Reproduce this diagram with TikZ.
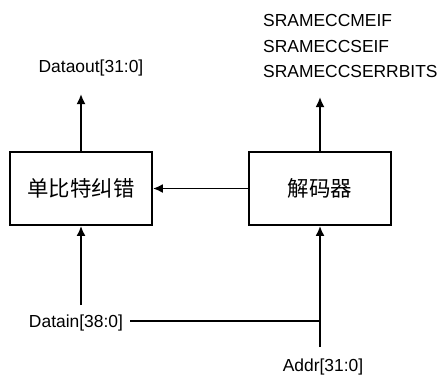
\documentclass[tikz,border=0pt]{standalone}
\usepackage{fontspec}
\setmainfont{Liberation Sans}
\newfontfamily\cjk{Noto Sans CJK SC}
\usetikzlibrary{arrows.meta}
\begin{document}
\begin{tikzpicture}[x=1bp,y=-1bp,
  blk/.style={draw,line width=1.8bp,minimum width=142bp,minimum height=73bp,inner sep=0pt,font=\cjk\fontsize{21.5}{24}\selectfont},
  lbl/.style={inner sep=0pt,font=\fontsize{17.5}{20}\selectfont},
  wire/.style={line width=1.8bp},
  arr/.style={wire,-{Latex[length=10bp,width=9bp]}}]
\useasboundingbox (0,0) rectangle (440,376);
\node[blk] (L) at (81,188.5) {单比特纠错};
\node[blk] (R) at (320,188.5) {解码器};
\node[lbl] (dout) at (91,68) {Dataout[31:0]};
\node[lbl,anchor=west,align=left,font=\fontsize{17.5}{26}\selectfont] (flags) at (263,46) {SRAMECCMEIF\\SRAMECCSEIF\\SRAMECCSERRBITS};
\node[lbl] (din) at (76,323) {Datain[38:0]};
\node[lbl] (addr) at (323,367) {Addr[31:0]};
\coordinate (doutEnd) at (81,94);
\coordinate (flagEnd) at (320,97);
\coordinate (dinStart) at (81,305);
\coordinate (hStart) at (130,321);
\coordinate (junc) at (320,321);
\coordinate (addrStart) at (320,347);
\draw[arr] (L.north) -- (doutEnd);
\draw[arr] (R.north) -- (flagEnd);
\draw[arr] (R.west) -- (L.east);
\draw[arr] (dinStart) -- (L.south);
\draw[wire] (hStart) -- (junc);
\draw[arr] (addrStart) -- (R.south);
\end{tikzpicture}
\end{document}
